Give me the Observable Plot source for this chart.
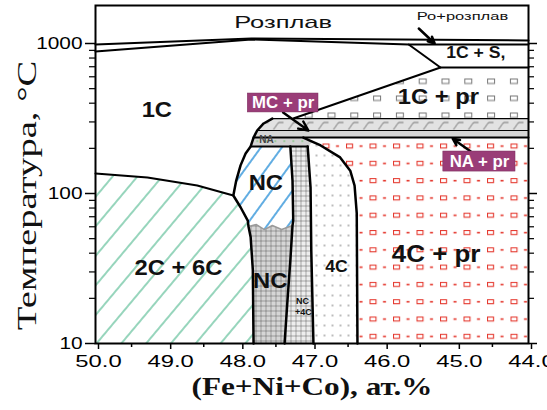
<!DOCTYPE html>
<html><head><meta charset="utf-8">
<script src="https://cdn.jsdelivr.net/npm/d3@7"></script>
<script src="https://cdn.jsdelivr.net/npm/@observablehq/plot@0.6"></script>
<style>body{margin:0;background:#fff}</style>
</head><body><div id="chart"></div>
<script>
// ---- ticks ----
const xMajorTicks = [50, 49, 48, 47, 46, 45, 44];
const xMinorTicks = [49.5, 48.5, 47.5, 46.5, 45.5, 44.5];
const yMajorTicks = [10, 100, 1000];
const yMinorTicks = [20, 30, 40, 50, 60, 70, 80, 90, 200, 300, 400, 500, 600, 700, 800, 900];

// ---- phase boundaries: [ (Fe+Ni+Co) at.%, temperature °C ] ----
const liquidusUpper = [[50, 985], [47.84, 1080], [44, 1047]];
const liquidusLower = [[50, 884], [47.84, 1063], [45.66, 985], [44, 985]];
const solidusS = [[45.66, 985], [45.22, 692], [44, 692]];
const prBoundary = [[45.22, 692], [47.26, 316]];
const bandEdge = [[47.55, 316], [47.67, 293], [47.76, 263], [47.81, 236], [47.85, 206]];
const ncEdge = [[47.85, 206], [47.92, 185], [47.99, 154], [48.05, 122], [48.09, 97], [47.99, 81], [47.89, 66], [47.88, 60.3]];
const ncLowEdge = [[47.88, 60.3], [47.85, 51], [47.82, 31], [47.81, 10]];
const c26Top = [[50, 136], [49.28, 128], [48.59, 113], [48.09, 97]];
const ncRight = [[47.30, 206], [47.27, 122], [47.26, 66], [47.27, 61.2], [47.30, 35.8], [47.34, 19.3], [47.38, 10]];
const c4Left = [[47.06, 206], [47.02, 110], [47.01, 41.7], [46.98, 10]];
const c4Right = [[47.12, 236], [46.99, 221], [46.88, 209], [46.61, 174], [46.47, 142], [46.41, 113], [46.38, 74], [46.37, 10]];
const ncWave = [[47.88, 60.3], [47.77, 62.1], [47.66, 57.5], [47.55, 61.2], [47.42, 57.5], [47.27, 61.2]];
const bandLevels = [316, 263, 236];   // MC+pr top, NA+pr top, NA+pr bottom
const xMin = 44, xMax = 50, tMin = 10;

// ---- labels ----
const bigLabels = [
  {text: "1C", x: 49.15, T: 358},
  {text: "1C + pr", x: 45.25, T: 437},
  {text: "NC", x: 47.64, T: 118},
  {text: "NC", x: 47.58, T: 26.3},
  {text: "2C + 6C", x: 48.85, T: 32.1}
];
const prLabel = [{text: "4C + pr", x: 45.28, T: 39.2}];
const midLabels = [{text: "4C", x: 46.66, T: 32.6}, {text: "1C + S,", x: 44.73, T: 871}];
const meltLabel = [{text: "Розплав", x: 47.40, T: 1380}];
const meltMixLabel = [{text: "Ро+розплав", x: 44.915, T: 1514}];
const naLabel = [{text: "NA", x: 47.63, T: 227}];
const tinyLabels = [{text: "NC", x: 47.13, T: 19.3}, {text: "+4C", x: 47.12, T: 16.3}];
const boxes = [
  {text: "MC + pr", x1: 47.89, x2: 46.91, T1: 347, T2: 464, xc: 47.40, Tc: 401},
  {text: "NA + pr", x1: 45.18, x2: 44.18, T1: 140, T2: 190.5, xc: 44.68, Tc: 163.4}
];
const arrowsData = [
  {x1: 45.52, T1: 1259, x2: 45.30, T2: 1000},
  {x1: 47.40, T1: 347, x2: 47.05, T2: 263},
  {x1: 44.80, T1: 190.5, x2: 45.05, T2: 232}
];
const yTitle = "Температура, °C";
const xTitle = "(Fe+Ni+Co), ат.%";

// ---- region polygons built from the boundaries ----
const poly1Cpr = [...prBoundary, [xMin, bandLevels[0]], [xMin, 692]];
const polyMC = [bandEdge[0], bandEdge[1], bandEdge[2], [xMin, bandLevels[1]], [xMin, bandLevels[0]]];
const polyNApr = [bandEdge[2], bandEdge[3], [xMin, bandLevels[2]], [xMin, bandLevels[1]]];
const polyNA = [bandEdge[3], c4Right[0], c4Right[1], c4Left[0], bandEdge[4]];
const polyNCup = [...ncEdge, ...ncWave.slice(1), ncRight[2], ncRight[1], ncRight[0]];
const polyNClow = [...ncWave, ncRight[4], ncRight[5], ncRight[6], ...ncLowEdge.slice().reverse()];
const polyNC4C = [...ncRight, ...c4Left.slice().reverse()];
const poly4C = [...c4Left, ...c4Right.slice().reverse()];
const poly4Cpr = [...c4Right, [xMin, tMin], [xMin, bandLevels[2]]];
const poly26 = [...c26Top, ...ncEdge.slice(5), ...ncLowEdge.slice(1), [xMax, tMin]];

const P = d => d[0], Q = d => d[1];
const fillPoly = (pts, fill) => Plot.line(pts, {x: P, y: Q, fill, stroke: "none"});
const edge = (pts, w = 2.5, c = "black") => Plot.line(pts, {x: P, y: Q, stroke: c, strokeWidth: w, strokeLinejoin: "round"});

const sans = "'Liberation Sans', Arial, sans-serif";
const serif = "'Liberation Serif', 'Times New Roman', serif";

const chart = Plot.plot({
  width: 547, height: 410,
  marginLeft: 95, marginRight: 19, marginTop: 5, marginBottom: 67,
  style: {fontFamily: sans, background: "#fff", overflow: "visible"},
  x: {domain: [xMax, xMin]},
  y: {type: "log", domain: [tMin, 1792]},
  marks: [
    fillPoly(poly26, "url(#pGreen)"),
    fillPoly(polyNCup, "url(#pBlue)"),
    fillPoly(polyNClow, "url(#pGridDark)"),
    fillPoly(polyNC4C, "url(#pGridLight)"),
    fillPoly(poly4C, "url(#pDots)"),
    fillPoly(poly4Cpr, "url(#pRed)"),
    fillPoly(poly1Cpr, "url(#p1C)"),
    fillPoly(polyMC, "url(#pBand)"),
    fillPoly(polyNApr, "#d6d6d6"),
    fillPoly(polyNA, "url(#pNA)"),
    edge(ncWave, 1.5, "#9a9a9a"),
    edge(liquidusUpper, 2),
    edge(liquidusLower, 2),
    edge(solidusS, 2),
    edge(prBoundary, 2),
    edge([bandEdge[0], [xMin, bandLevels[0]]], 1.2),
    edge([bandEdge[2], [xMin, bandLevels[1]]], 1),
    edge([bandEdge[3], [xMin, bandLevels[2]]], 2),
    edge([bandEdge[4], c4Left[0]], 2),
    edge([...bandEdge, ...ncEdge.slice(1), ...ncLowEdge.slice(1)], 2.5),
    edge(c26Top, 2),
    edge(ncRight, 2.5),
    edge(c4Left, 2.5),
    edge(c4Right, 2.5),
    Plot.text(bigLabels, {x: "x", y: "T", text: "text", fontSize: 22, fontWeight: "bold", fill: "#111", className: "st-big"}),
    Plot.text(prLabel, {x: "x", y: "T", text: "text", fontSize: 24, fontWeight: "bold", fill: "#111", className: "st-big"}),
    Plot.text(midLabels, {x: "x", y: "T", text: "text", fontSize: 16, fontWeight: "bold", fill: "#111", className: "st-mid"}),
    Plot.text(meltLabel, {x: "x", y: "T", text: "text", fontSize: 17, fill: "#111", className: "st-melt"}),
    Plot.text(meltMixLabel, {x: "x", y: "T", text: "text", fontSize: 11, fill: "#111", className: "st-meltmix"}),
    Plot.text(naLabel, {x: "x", y: "T", text: "text", fontSize: 10, fontWeight: "bold", fill: "#444"}),
    Plot.text(tinyLabels, {x: "x", y: "T", text: "text", fontSize: 9, fontWeight: "bold", fill: "#111"}),
    Plot.arrow(arrowsData, {x1: "x1", y1: "T1", x2: "x2", y2: "T2", stroke: "black", strokeWidth: 2.5, headLength: 9, headAngle: 50}),
    Plot.rect(boxes, {x1: "x1", x2: "x2", y1: "T1", y2: "T2", fill: "#9a3d78", stroke: "#7a2d5d", strokeWidth: 0.5}),
    Plot.text(boxes, {x: "xc", y: "Tc", text: "text", fill: "white", fontSize: 16, fontWeight: "bold", className: "st-box"}),
    Plot.frame({stroke: "black", strokeWidth: 2}),
    Plot.axisX(xMajorTicks, {anchor: "bottom", tickSize: 6, tickPadding: 5, tickFormat: d => d.toFixed(1), fontSize: 17, dx: 3, strokeWidth: 1.5, label: null}),
    Plot.axisX(xMinorTicks, {anchor: "bottom", tickSize: 4, tickFormat: () => "", strokeWidth: 1.5, label: null}),
    Plot.axisY(yMajorTicks, {anchor: "left", tickSize: 10, tickPadding: 3, tickFormat: d => String(d), fontSize: 16, strokeWidth: 1.5, label: null}),
    Plot.axisY(yMinorTicks, {anchor: "left", tickSize: 6, tickFormat: () => "", strokeWidth: 1.2, label: null}),
    Plot.axisY(yMajorTicks, {anchor: "right", tickSize: 8, tickFormat: () => "", strokeWidth: 1.5, label: null}),
    Plot.axisY(yMinorTicks, {anchor: "right", tickSize: 5, tickFormat: () => "", strokeWidth: 1.2, label: null}),
    Plot.text([yTitle], {frameAnchor: "left", textAnchor: "middle", dx: -68, dy: 21, rotate: -90, fontSize: 28, fontFamily: serif, fill: "#111", className: "st-ytitle"}),
    Plot.text([xTitle], {frameAnchor: "bottom", textAnchor: "middle", dy: 51, fontSize: 26, fontWeight: "bold", fontFamily: serif, fill: "#111", className: "st-xtitle"})
  ]
});

// ---- fill patterns ----
const defs = d3.select(chart).insert("defs", ":first-child");
function pat(id, attrs) {
  const p = defs.append("pattern").attr("id", id).attr("patternUnits", "userSpaceOnUse");
  for (const k in attrs) p.attr(k, attrs[k]);
  return p;
}
let p;
p = pat("pGreen", {width: 19, height: 19, patternTransform: "rotate(40)"});
p.append("rect").attr("width", 19).attr("height", 19).attr("fill", "white");
p.append("line").attr("x1", 9).attr("x2", 9).attr("y1", 0).attr("y2", 19).attr("stroke", "#5fbf98").attr("stroke-width", 1.3);
p = pat("pBlue", {width: 17, height: 17, patternTransform: "rotate(36)"});
p.append("rect").attr("width", 17).attr("height", 17).attr("fill", "white");
p.append("line").attr("x1", 8).attr("x2", 8).attr("y1", 0).attr("y2", 17).attr("stroke", "#1e8ad6").attr("stroke-width", 1.4);
for (const [id, bg] of [["pGridDark", "#d6d6d6"], ["pGridLight", "#eeeeee"]]) {
  p = pat(id, {width: 5, height: 5, x: 0, y: 0});
  p.append("rect").attr("width", 5).attr("height", 5).attr("fill", bg);
  p.append("path").attr("d", "M0,0.3H5M0.3,0V5").attr("stroke", "#555").attr("stroke-width", 0.6);
}
p = pat("pDots", {width: 8, height: 10});
p.append("rect").attr("width", 8).attr("height", 10).attr("fill", "white");
p.append("circle").attr("cx", 4).attr("cy", 5).attr("r", 0.8).attr("fill", "#666");
p = pat("pRed", {width: 23.5, height: 17.3, x: 322, y: 143});
p.append("rect").attr("width", 23.5).attr("height", 17.3).attr("fill", "white");
p.append("rect").attr("x", 0.5).attr("y", 0.5).attr("width", 6).attr("height", 4).attr("fill", "none").attr("stroke", "#e5392f").attr("stroke-width", 1.1);
p.append("rect").attr("x", 13.5).attr("y", 1.8).attr("width", 3).attr("height", 1.6).attr("fill", "#e5392f");
p = pat("p1C", {width: 22.8, height: 17, x: 327, y: 78});
p.append("rect").attr("width", 22.8).attr("height", 17).attr("fill", "white");
p.append("rect").attr("x", 0.5).attr("y", 0.5).attr("width", 7).attr("height", 4.5).attr("fill", "none").attr("stroke", "#777").attr("stroke-width", 1);
p = pat("pBand", {width: 15, height: 12, x: 0, y: 118});
p.append("rect").attr("width", 15).attr("height", 12).attr("fill", "#e2e2e2");
p.append("path").attr("d", "M3,11L8,4L13,4").attr("fill", "none").attr("stroke", "#555").attr("stroke-width", 0.8);
p = pat("pNA", {width: 9, height: 9, x: 0, y: 136});
p.append("rect").attr("width", 9).attr("height", 9).attr("fill", "#d2d2d2");
p.append("rect").attr("x", 4).attr("y", 4).attr("width", 1.5).attr("height", 1.2).attr("fill", "#5fbf60");

document.getElementById("chart").appendChild(chart);

// ---- horizontal stretch of text, as in the reference (anchor kept explicit) ----
function stretch(selector, factor) {
  chart.querySelectorAll(selector + " text").forEach(t => {
    const w = t.getComputedTextLength();
    if (!(w > 0)) return;
    const L = w * factor;
    const anchor = getComputedStyle(t).textAnchor;
    const x0 = +(t.getAttribute("x") || 0);
    const off = anchor === "middle" ? -L / 2 : anchor === "end" ? -L : 0;
    t.setAttribute("text-anchor", "start");
    t.style.textAnchor = "start";
    t.setAttribute("x", x0 + off);
    t.setAttribute("textLength", L);
    t.setAttribute("lengthAdjust", "spacingAndGlyphs");
  });
}
stretch('g[aria-label="x-axis tick label"]', 1.4);
stretch('g[aria-label="y-axis tick label"]', 1.3);
stretch("g.st-big", 1.08);
stretch("g.st-mid", 1.1);
stretch("g.st-melt", 1.5);
stretch("g.st-meltmix", 1.5);
stretch("g.st-box", 1.05);
stretch("g.st-ytitle", 1.38);
stretch("g.st-xtitle", 1.2);
</script>
</body></html>
